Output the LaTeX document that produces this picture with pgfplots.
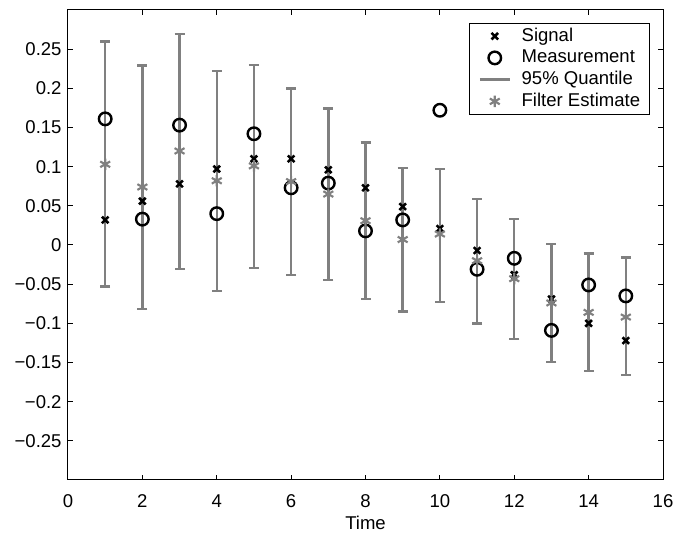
\documentclass[border=0pt]{standalone}
\usepackage{pgfplots}
\pgfplotsset{compat=1.18}
\usepackage{pgfplotstable}
\usepackage{fontspec}
\setmainfont{Liberation Sans}

\definecolor{qgray}{rgb}{0.5,0.5,0.5}

% time, signal, measurement, filter estimate, lower and upper 95% quantile
\pgfplotstableread{
x sig meas est lo hi
1 0.032 0.161 0.103 -0.053 0.260
2 0.056 0.033 0.074 -0.082 0.229
3 0.078 0.153 0.120 -0.031 0.269
4 0.097 0.040 0.082 -0.059 0.222
5 0.110 0.142 0.101 -0.029 0.230
6 0.110 0.073 0.081 -0.038 0.200
7 0.096 0.079 0.065 -0.045 0.174
8 0.073 0.018 0.031 -0.069 0.131
9 0.049 0.032 0.007 -0.085 0.098
10 0.021 0.172 0.014 -0.073 0.097
11 -0.007 -0.031 -0.020 -0.100 0.059
12 -0.038 -0.017 -0.043 -0.120 0.033
13 -0.069 -0.109 -0.074 -0.149 0.001
14 -0.100 -0.051 -0.086 -0.161 -0.011
15 -0.122 -0.065 -0.092 -0.166 -0.016
}\datatable

\begin{document}
\fontsize{13.9}{16.7}\selectfont
\begin{tikzpicture}[x=0.75pt,y=0.75pt]
\begin{axis}[
    name=main,
    scale only axis,
    width=446.25pt, height=352.5pt,
    xmin=0, xmax=16, ymin=-0.3, ymax=0.3,
    xtick={0,2,...,16},
    ytick={-0.25,-0.2,-0.15,-0.1,-0.05,0,0.05,0.1,0.15,0.2,0.25},
    yticklabels={−0.25,−0.2,−0.15,−0.1,−0.05,0,0.05,0.1,0.15,0.2,0.25},
    /pgf/number format/assume math mode=true,
    tick align=inside,
    major tick length=3.75pt,
    axis line style={line width=0.75pt},
    every tick/.style={black, line width=0.75pt},
    tick label style={font=\fontsize{13.9}{16.7}\selectfont},
    xticklabel style={yshift=-6pt},
    xlabel={Time},
    xlabel style={font=\fontsize{13.9}{16.7}\selectfont, yshift=3pt},
    legend cell align={left},
    legend image code/.code={\draw[mark repeat=2, mark phase=2, #1]
        plot coordinates {(0pt,0pt) (11.25pt,0pt) (22.5pt,0pt)};},
    legend style={at={(0.978,0.973)}, anchor=north east, draw=black,
        line width=0.75pt, font=\fontsize{13.9}{16.7}\selectfont,
        inner xsep=7pt, inner ysep=3pt, column sep=8pt, row sep=2.8pt,
        nodes={inner sep=0pt, text height=10.5pt, text depth=3pt}},
]
\addplot[draw=none, mark=none, forget plot,
    error bars/.cd, y dir=both, y explicit,
    error bar style={draw=qgray, line width=1.8pt},
    error mark options={draw=qgray, rotate=90, mark size=3.75pt, line width=1.8pt}]
    table[x=x, y=est, y error plus expr=\thisrow{hi}-\thisrow{est},
          y error minus expr=\thisrow{est}-\thisrow{lo}] {\datatable};

\addplot[only marks, mark=x, mark size=3.5pt, line width=1.9pt, black] table[x=x, y=sig] {\datatable};
\addlegendentry{Signal}
\addplot[only marks, mark=o, mark size=4.7pt, line width=1.8pt, black] table[x=x, y=meas] {\datatable};
\addlegendentry{Measurement}
\addlegendimage{qgray, line width=1.8pt}
\addlegendentry{95\% Quantile}
\addplot[only marks, mark=asterisk, mark size=4.3pt, line width=1.6pt, qgray] table[x=x, y=est] {\datatable};
\addlegendentry{Filter Estimate}
\end{axis}
\pgfresetboundingbox
\path[use as bounding box] (main.south west) ++(-68,-53) rectangle ([shift={(10,10)}]main.north east);
\end{tikzpicture}
\end{document}
